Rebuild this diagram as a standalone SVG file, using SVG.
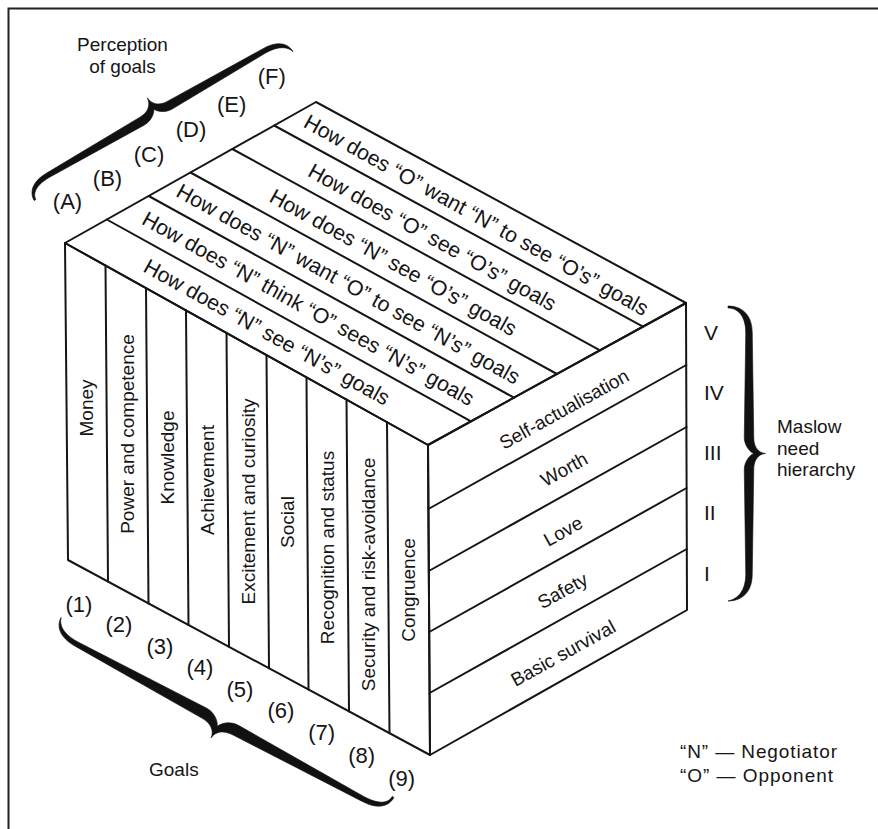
<svg xmlns="http://www.w3.org/2000/svg" width="878" height="829" viewBox="0 0 878 829">
<style>
.ln{fill:none;stroke:#151515;stroke-width:2;stroke-linejoin:round;stroke-linecap:round}
.fr{fill:none;stroke:#222;stroke-width:2}
.br{fill:#111;stroke:#111;stroke-width:0.6;stroke-linejoin:round}
text{font-family:"Liberation Sans",Arial,Helvetica,sans-serif;fill:#151515}
.s19{font-size:19px}
.s21{font-size:21.3px;text-anchor:middle}
.col{font-size:19px;text-anchor:middle}
.lab{font-size:22px;text-anchor:middle}
.mid{text-anchor:middle}
.rn{font-size:21px}
</style>
<rect width="878" height="829" fill="#fff"/>
<g id="frame"><path class="fr" d="M8.5,829 V8.5 H878"/></g>

<g id="top-face">
  <path class="ln" d="M65,243 L316,102 L686,303 L428,445 Z"/>
  <path class="ln" d="M106.8,219.5 L471,421.3 M148.7,196 L514,397.7 M190.5,172.5 L557,374 M232.3,149 L600,350.3 M274.2,125.5 L643,326.7"/>
  <text class="s21" transform="translate(267,331.8) rotate(29.1)" y="7.6">How does “N” see “N’s” goals</text>
  <text class="s21" transform="translate(308.5,308.3) rotate(29.1)" y="7.6">How does “N” think “O” sees “N’s” goals</text>
  <text class="s21" transform="translate(348.5,283.8) rotate(29.1)" y="7.6">How does “N” want “O” to see “N’s” goals</text>
  <text class="s21" transform="translate(393.5,262.1) rotate(29.1)" y="7.6">How does “N” see “O’s” goals</text>
  <text class="s21" transform="translate(432.5,237) rotate(29.1)" y="7.6">How does “O” see “O’s” goals</text>
  <text class="s21" transform="translate(476.5,214.8) rotate(29.1)" y="7.6">How does “O” want “N” to see “O’s” goals</text>
</g>

<g id="front-face">
  <path class="ln" d="M65,243 L428,445 L430,755 L68,560 Z"/>
  <path class="ln" d="M105.5,265.5 L108,581.5 M146,288.1 L148.5,603.4 M186,310.3 L188.5,624.9 M226.5,332.9 L229,646.7 M266.5,355.1 L269,668.3 M306.5,377.4 L308.5,689.6 M346.5,399.6 L349,711.4 M387,422.2 L389.5,733.2"/>
  <text class="col" transform="translate(86.6,408) rotate(-90)" y="6.8">Money</text>
  <text class="col" transform="translate(127,434) rotate(-90)" y="6.8">Power and competence</text>
  <text class="col" transform="translate(167.3,457.5) rotate(-90)" y="6.8">Knowledge</text>
  <text class="col" transform="translate(207.5,480) rotate(-90)" y="6.8">Achievement</text>
  <text class="col" transform="translate(247.8,501.5) rotate(-90)" y="6.8">Excitement and curiosity</text>
  <text class="col" transform="translate(287.6,522) rotate(-90)" y="6.8">Social</text>
  <text class="col" transform="translate(327.6,547.5) rotate(-90)" y="6.8">Recognition and status</text>
  <text class="col" transform="translate(368,574.5) rotate(-90)" y="6.8">Security and risk-avoidance</text>
  <text class="col" transform="translate(408.6,590) rotate(-90)" y="6.8">Congruence</text>
</g>

<g id="right-face">
  <path class="ln" d="M428,445 L686,303 L687,610 L430,755 Z"/>
  <path class="ln" d="M428.4,509 L686.3,365 M428.8,571 L686.5,427 M429.2,632 L686.6,488 M429.6,693 L686.8,549"/>
  <text class="col" transform="translate(564,409) rotate(-29)" y="6.8">Self-actualisation</text>
  <text class="col" transform="translate(564,469) rotate(-29)" y="6.8">Worth</text>
  <text class="col" transform="translate(563,531) rotate(-29)" y="6.8">Love</text>
  <text class="col" transform="translate(562.5,590.5) rotate(-29)" y="6.8">Safety</text>
  <text class="col" transform="translate(563,653) rotate(-29)" y="6.8">Basic survival</text>
</g>

<g id="perception-of-goals">
  <path class="br" transform="translate(35,200) rotate(-29.9)" d="M-1,0 C-1,-9 6,-17.5 24,-17.5 L132.3,-19.5 C142.7,-19.5 147.8,-25.5 148.3,-32.5 C148.8,-25.5 153.9,-19.5 164.3,-19.5 L272.6,-17.5 C290.6,-17.5 297.6,-9 297.6,0 C295.6,-7 288.2,-12.5 272.6,-12.5 L164.3,-10.5 C154.7,-10.5 148.6,-17.5 148.3,-20 C148,-17.5 141.9,-10.5 132.3,-10.5 L24,-12.5 C8.4,-12.5 1,-7 1,0 Z"/>
  <text class="s19 mid" x="122.5" y="50.7">Perception</text>
  <text class="s19 mid" x="122.5" y="73">of goals</text>
  <text class="lab" x="67.5" y="208.7">(A)</text>
  <text class="lab" x="107.5" y="185.7">(B)</text>
  <text class="lab" x="149" y="161.7">(C)</text>
  <text class="lab" x="191" y="136.7">(D)</text>
  <text class="lab" x="231.7" y="111.7">(E)</text>
  <text class="lab" x="271.7" y="83.7">(F)</text>
</g>

<g id="maslow">
  <path class="br" transform="translate(728,307) rotate(90)" d="M-1,0 C-1,-12.6 6.5,-24.25 26,-24.25 L130.5,-25.75 C140.9,-25.75 146,-31 146.5,-37.5 C147,-31 152.1,-25.75 162.5,-25.75 L267,-24.25 C286.5,-24.25 294,-12.6 294,0 C292,-10 283.9,-17.75 267,-17.75 L162.5,-16.25 C153.5,-16.25 146.8,-23.5 146.5,-26 C146.2,-23.5 139.5,-16.25 130.5,-16.25 L26,-17.75 C9.1,-17.75 1,-10 1,0 Z"/>
  <text class="rn" x="704" y="340">V</text>
  <text class="rn" x="704" y="400">IV</text>
  <text class="rn" x="704" y="460">III</text>
  <text class="rn" x="704" y="520">II</text>
  <text class="rn" x="704" y="581">I</text>
  <text class="s19" x="777" y="433">Maslow</text>
  <text class="s19" x="777" y="454.5">need</text>
  <text class="s19" x="777" y="476">hierarchy</text>
</g>

<g id="goals">
  <path class="br" transform="translate(393,797) rotate(208.4)" d="M-1,0 C-1,-9.6 6.5,-18.5 26,-18.5 L170.15,-21.5 C181.85,-21.5 187.65,-27.5 188.15,-34.5 C188.65,-27.5 194.45,-21.5 206.15,-21.5 L350.3,-18.5 C369.8,-18.5 377.3,-9.6 377.3,0 C375.3,-8 367.2,-13.5 350.3,-13.5 L206.15,-10.5 C195.35,-10.5 188.45,-19 188.15,-22 C187.85,-19 180.95,-10.5 170.15,-10.5 L26,-13.5 C9.1,-13.5 1,-8 1,0 Z"/>
  <text class="lab" x="79" y="611.7">(1)</text>
  <text class="lab" x="119" y="632.4">(2)</text>
  <text class="lab" x="160" y="654">(3)</text>
  <text class="lab" x="200" y="674.7">(4)</text>
  <text class="lab" x="240" y="696.7">(5)</text>
  <text class="lab" x="281" y="718.2">(6)</text>
  <text class="lab" x="321.7" y="739.7">(7)</text>
  <text class="lab" x="361.7" y="763.2">(8)</text>
  <text class="lab" x="401.7" y="785.7">(9)</text>
  <text class="s19" x="149" y="776">Goals</text>
</g>

<g id="legend">
  <text class="s19" x="680" y="758" textLength="157" lengthAdjust="spacing">“N” — Negotiator</text>
  <text class="s19" x="680" y="781.5" textLength="153" lengthAdjust="spacing">“O” — Opponent</text>
</g>
<g id="connectors"/>
</svg>
